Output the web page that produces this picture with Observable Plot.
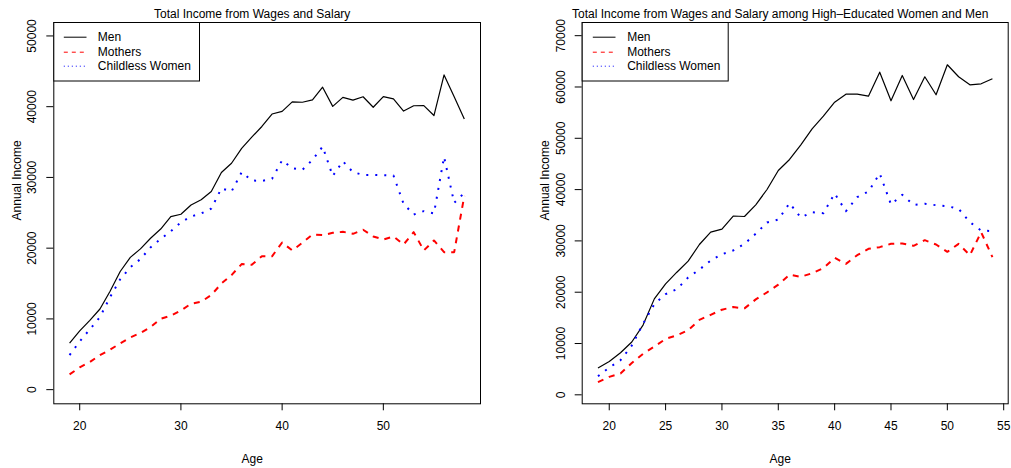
<!DOCTYPE html>
<html>
<head>
<meta charset="utf-8">
<script src="https://cdn.jsdelivr.net/npm/d3@7"></script>
<script src="https://cdn.jsdelivr.net/npm/@observablehq/plot@0.6"></script>
<style>
  body { margin: 0; background: #fff; }
  #chart { position: relative; width: 1011px; height: 468px; font-family: "Liberation Sans", Arial, Helvetica, sans-serif; }
  .panel { position: absolute; top: 0; }
</style>
</head>
<body>
<div id="chart"></div>
<script>
// ---- All workers, ages 19-58 ----
const allAges = [19,20,21,22,23,24,25,26,27,28,29,30,31,32,33,34,35,36,37,38,
                 39,40,41,42,43,44,45,46,47,48,49,50,51,52,53,54,55,56,57,58];
const allMen = [6580,8300,9790,11400,13900,16700,18700,19900,21400,22700,
                24450,24800,26100,26840,28000,30700,32000,34100,35700,37200,
                38960,39330,40680,40630,40960,42750,40040,41310,40930,41400,
                39920,41430,41100,39380,40130,40150,38750,44490,41400,38250];
const allMothers = [2160,3150,3900,4890,5650,6540,7390,8000,8850,10020,
                    10450,11200,12140,12430,13370,15000,16190,17750,17650,18870,
                    18850,20800,19680,20760,21930,21840,22170,22310,22030,22600,
                    21650,21230,21650,20520,22260,19680,21090,19440,19440,27400];
const allChildless = [4890,6820,8520,10260,13080,15600,17300,18450,20100,21300,
                      22400,23650,24480,24900,25600,28450,28010,30740,29560,29510,
                      29800,32430,31300,31070,32480,34360,30200,32290,30740,30360,
                      30360,30310,30270,26270,24760,25230,24900,32910,26410,27820];

// ---- High-educated workers, ages 19-54 ----
const highAges = [19,20,21,22,23,24,25,26,27,28,29,30,31,32,33,34,35,36,
                  37,38,39,40,41,42,43,44,45,46,47,48,49,50,51,52,53,54];
const highMen = [5220,6490,8200,10300,13600,18700,21630,23900,26050,29300,
                 31700,32300,34850,34760,37030,40020,43720,45870,48730,51850,
                 54310,57040,58600,58600,58210,62890,57310,62240,57560,61990,
                 58480,64330,61990,60430,60620,61600];
const highMothers = [2460,3500,4150,6200,8000,9400,10900,11600,12600,14600,
                     15600,16600,17100,16850,18600,19970,21470,23420,23000,23700,
                     24700,26700,25530,27220,28460,28780,29430,29490,29040,30140,
                     29300,27870,29430,27220,31700,26830];
const highChildless = [3630,5320,6750,9610,13840,17670,19620,20590,22870,24420,
                       26180,27410,28130,29430,31400,33590,34170,37350,34560,35600,
                       35400,39240,35790,38520,39630,43140,37100,38980,37030,37230,
                       36960,36770,36250,33650,32020,31900];

const seriesNames = ["Men", "Mothers", "Childless Women"];
const titleAll = "Total Income from Wages and Salary";
const titleHigh = "Total Income from Wages and Salary among High\u2013Educated Women and Men";
const xLabel = "Age";
const yLabel = "Annual Income";
const xTicksAll = [20, 30, 40, 50];
const xTicksHigh = [20, 25, 30, 35, 40, 45, 50, 55];
const yTicksAll = [0, 10000, 20000, 30000, 40000, 50000];
const yTicksHigh = [0, 10000, 20000, 30000, 40000, 50000, 60000, 70000];

// line style per series (solid, dashed, dotted)
const seriesStyle = {
  "Men":             {stroke: "#000000", strokeWidth: 1.2, dash: null,  legendDash: null,  legendWidth: 1},
  "Mothers":         {stroke: "#ff0000", strokeWidth: 2,   dash: "6,6", legendDash: "4,4", legendWidth: 1},
  "Childless Women": {stroke: "#0000ff", strokeWidth: 2,   dash: "2,7", legendDash: "1,3", legendWidth: 1}
};

function tidy(ages, men, mothers, childless) {
  const rows = [];
  [men, mothers, childless].forEach((vals, k) => {
    vals.forEach((v, i) => rows.push({series: seriesNames[k], age: ages[i], income: v}));
  });
  return rows;
}

const H = 468, MT = 22, MB = 64.7;

function panel({rows, title, xDomain, yDomain, xTicks, yTicks, width, marginLeft, marginRight, legendW, legendLineX, legendTextX}) {
  const lines = seriesNames.map(name => {
    const s = seriesStyle[name];
    return Plot.line(rows.filter(d => d.series === name), {
      x: "age", y: "income",
      stroke: s.stroke, strokeWidth: s.strokeWidth,
      strokeDasharray: s.dash ?? undefined,
      strokeLinecap: "butt",
      strokeLinejoin: "round"
    });
  });
  const svg = Plot.plot({
    width, height: H,
    marginLeft, marginRight, marginTop: MT, marginBottom: MB,
    x: {domain: xDomain},
    y: {domain: yDomain},
    style: {fontFamily: '"Liberation Sans", Arial, Helvetica, sans-serif', fontSize: "12px", color: "#000", background: "#fff", overflow: "visible"},
    marks: [
      ...lines,
      Plot.frame({stroke: "#000", strokeWidth: 1}),
      Plot.axisX({ticks: xTicks, tickSize: 7, tickPadding: 11, tickFormat: d => String(d), label: null}),
      Plot.axisY({ticks: yTicks, tickSize: 7, tickPadding: 10.5, tickRotate: -90, tickFormat: d => String(d), label: null}),
      Plot.text([title], {text: d => d, frameAnchor: "top", dx: -15, dy: -4.7, lineAnchor: "bottom", fontSize: 12}),
      Plot.text([xLabel], {text: d => d, frameAnchor: "bottom", dx: -15, dy: 59, lineAnchor: "bottom", fontSize: 12}),
      Plot.text([yLabel], {text: d => d, frameAnchor: "left", dx: -33, dy: 7.3, rotate: -90, lineAnchor: "bottom", fontSize: 12})
    ]
  });

  // legend box in the top-left corner of the plotting frame
  const g = d3.select(svg).append("g")
    .attr("text-anchor", "start")
    .attr("transform", `translate(${marginLeft + 0.5},${MT + 0.5})`);
  g.append("rect")
    .attr("width", legendW).attr("height", 58.5)
    .attr("fill", "#fff").attr("stroke", "#000").attr("stroke-width", 1);
  const rowY = [14.7, 29.7, 43.7];
  seriesNames.forEach((name, i) => {
    const s = seriesStyle[name];
    g.append("line")
      .attr("x1", legendLineX[0]).attr("x2", legendLineX[1])
      .attr("y1", rowY[i]).attr("y2", rowY[i])
      .attr("stroke", s.stroke).attr("stroke-width", s.legendWidth)
      .attr("stroke-dasharray", s.legendDash);
    g.append("text")
      .attr("x", legendTextX).attr("y", rowY[i] + 4.2)
      .attr("text-anchor", "start")
      .attr("font-size", 12).attr("fill", "#000")
      .text(name);
  });
  return svg;
}

const chart = document.getElementById("chart");

const left = panel({
  rows: tidy(allAges, allMen, allMothers, allChildless),
  title: titleAll,
  xDomain: [17.44, 59.6], yDomain: [-2000, 51900],
  xTicks: xTicksAll, yTicks: yTicksAll,
  width: 505, marginLeft: 53.3, marginRight: 25,
  legendW: 145.7, legendLineX: [10, 32.7], legendTextX: 44
});
left.classList.add("panel");
left.style.left = "0px";
chart.appendChild(left);

const right = panel({
  rows: tidy(highAges, highMen, highMothers, highChildless),
  title: titleHigh,
  xDomain: [17.6, 55.4], yDomain: [-1750, 72570],
  xTicks: xTicksHigh, yTicks: yTicksHigh,
  width: 506, marginLeft: 76.7, marginRight: 3.3,
  legendW: 146, legendLineX: [10.6, 33.3], legendTextX: 45
});
right.classList.add("panel");
right.style.left = "505px";
chart.appendChild(right);
</script>
</body>
</html>
